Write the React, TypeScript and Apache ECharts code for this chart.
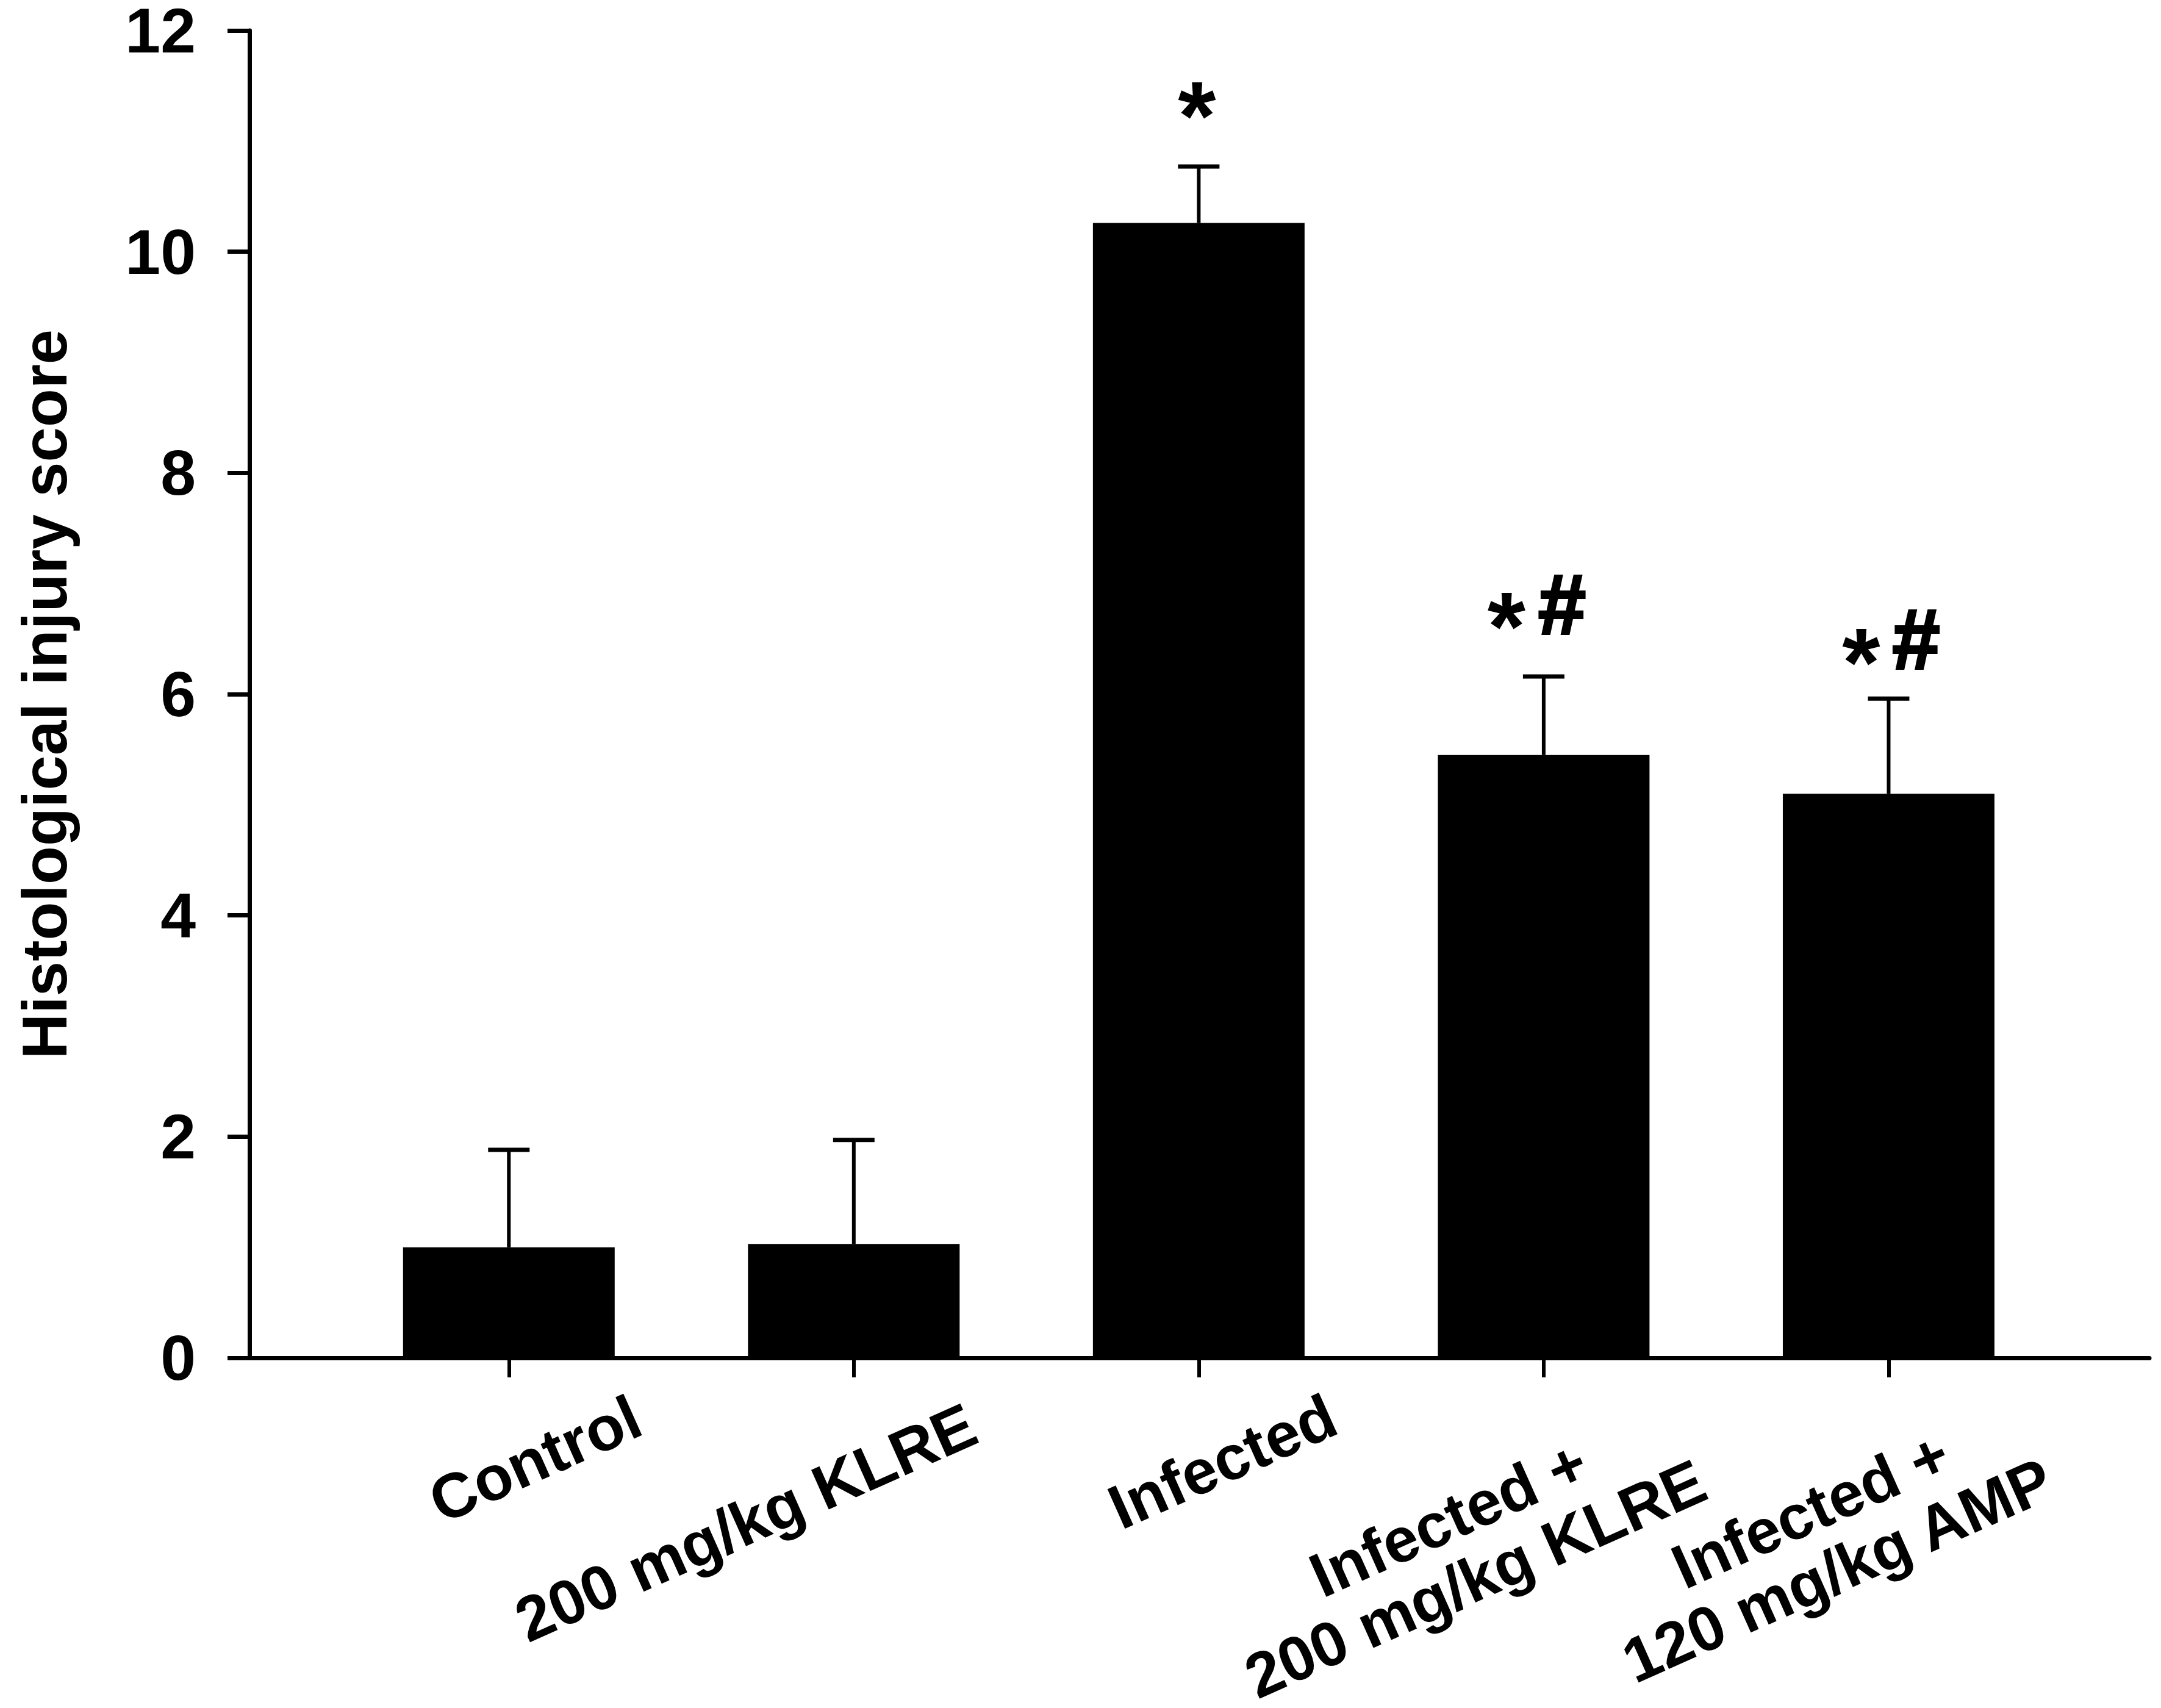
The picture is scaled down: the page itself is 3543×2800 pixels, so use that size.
import { useEffect, useRef } from "react";
import * as echarts from "echarts";

const categories = ["Control", "200 mg/kg KLRE", "Infected", "Infected +\n200 mg/kg KLRE", "Infected +\n120 mg/kg AMP"];
const positions = [0, 1, 2, 3, 4];
const means = [1.0, 1.03, 10.26, 5.45, 5.1];
const errorTops = [1.88, 1.97, 10.77, 6.16, 5.96];
const yTicks = [0, 2, 4, 6, 8, 10, 12];

// annotation text, category position it sits over
const marks: [string, number][] = [
    ["*", 2],
    ["*", 3],
    ["#", 3],
    ["*", 4],
    ["#", 4],
];

// pixel offsets of the hand placed texts, from their anchor point
const labelOffsets = [
    [43, 166],
    [-177, 270],
    [39, 170],
    [-134, 313],
    [-106, 299],
];
const markOffsets = [
    [-3, -84],
    [-61, -82],
    [30, -118],
    [-45, -60],
    [45, -98],
];

const FONT = '"Liberation Sans", Arial, sans-serif';
const LABEL_ROTATION = (24 * Math.PI) / 180;

const App = () => {
    const chartRef = useRef<HTMLDivElement>(null);

    useEffect(() => {
        if (!chartRef.current) return;
        const chart = echarts.init(chartRef.current, null, { renderer: "svg" });

        chart.setOption({
            animation: false,
            backgroundColor: "#fff",
            grid: { left: 409, top: 50, width: 3115, height: 2176, outerBoundsMode: "none" },
            xAxis: {
                type: "value",
                min: -0.752,
                max: 4.756,
                splitLine: { show: false },
                axisLine: { lineStyle: { color: "#000", width: 7 } },
                axisTick: { customValues: positions, length: 32, lineStyle: { color: "#000", width: 6 } },
                axisLabel: { show: false },
            },
            yAxis: {
                type: "value",
                min: 0,
                max: 12,
                interval: 2,
                name: "Histological injury score",
                nameLocation: "middle",
                nameGap: 284,
                nameTextStyle: { color: "#000", fontFamily: FONT, fontWeight: "bold", fontSize: 103 },
                splitLine: { show: false },
                axisLine: { show: true, onZero: false, lineStyle: { color: "#000", width: 7 } },
                axisTick: { show: true, length: 36, lineStyle: { color: "#000", width: 7 } },
                axisLabel: {
                    color: "#000",
                    fontFamily: FONT,
                    fontWeight: "bold",
                    fontSize: 104,
                    lineHeight: 90,
                    margin: 88,
                    customValues: yTicks,
                },
            },
            series: [
                {
                    type: "bar",
                    barWidth: 347,
                    itemStyle: { color: "#000" },
                    data: positions.map((p, i) => [p, means[i]]),
                },
                {
                    type: "custom",
                    data: positions.map((p, i) => [p, means[i], errorTops[i]]),
                    renderItem: (_: any, api: any) => {
                        const base = api.coord([api.value(0), api.value(1)]);
                        const top = api.coord([api.value(0), api.value(2)]);
                        return {
                            type: "group",
                            children: [
                                {
                                    type: "line",
                                    shape: { x1: base[0], y1: base[1], x2: top[0], y2: top[1] },
                                    style: { stroke: "#000", lineWidth: 6 },
                                },
                                {
                                    type: "line",
                                    shape: { x1: top[0] - 34, y1: top[1], x2: top[0] + 34, y2: top[1] },
                                    style: { stroke: "#000", lineWidth: 7 },
                                },
                            ],
                        };
                    },
                },
                {
                    // category labels sit at uneven places in the original, so no axisLabel here
                    type: "custom",
                    data: positions.map((p) => [p, 0]),
                    renderItem: (params: any, api: any) => {
                        const at = api.coord([api.value(0), api.value(1)]);
                        const offset = labelOffsets[params.dataIndex];
                        return {
                            type: "text",
                            x: at[0] + offset[0],
                            y: at[1] + offset[1],
                            rotation: LABEL_ROTATION,
                            style: {
                                text: categories[params.dataIndex],
                                fill: "#000",
                                font: `bold 103px ${FONT}`,
                                lineHeight: 108,
                                align: "center",
                                verticalAlign: "middle",
                            },
                        };
                    },
                },
                {
                    type: "custom",
                    data: marks.map(([, p]) => [p, errorTops[p]]),
                    renderItem: (params: any, api: any) => {
                        const at = api.coord([api.value(0), api.value(1)]);
                        const offset = markOffsets[params.dataIndex];
                        const text = marks[params.dataIndex][0];
                        return {
                            type: "text",
                            x: at[0] + offset[0],
                            y: at[1] + offset[1],
                            style: {
                                text,
                                fill: "#000",
                                stroke: text === "#" ? "#000" : undefined,
                                lineWidth: text === "#" ? 4 : 0,
                                font: `bold ${text === "*" ? 160 : 140}px ${FONT}`,
                                align: "center",
                                verticalAlign: "middle",
                            },
                        };
                    },
                },
            ],
        });

        return () => {
            chart.dispose();
        };
    }, []);

    return <div ref={chartRef} style={{ position: "absolute", left: 0, top: 0, width: 3543, height: 2800 }} />;
};

export default App;
